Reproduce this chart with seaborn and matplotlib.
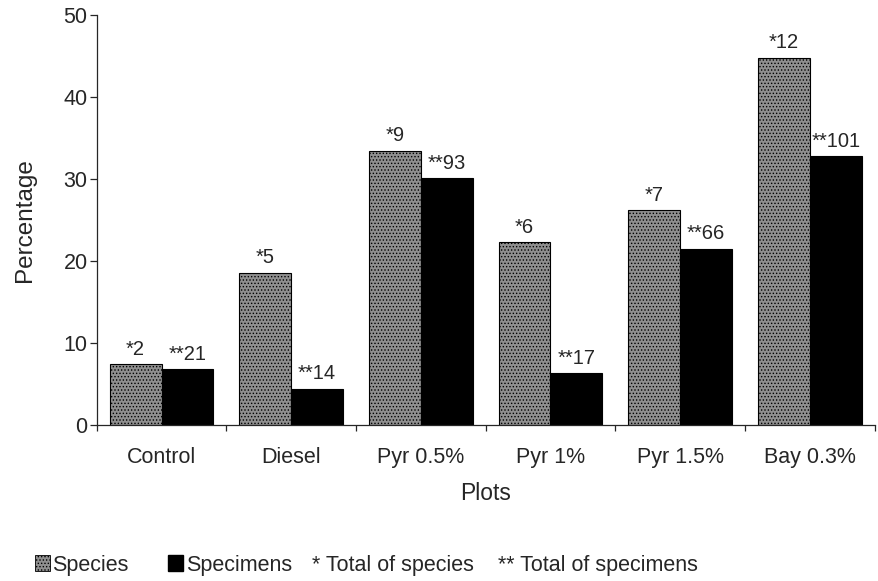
import numpy as np
import pandas as pd
import seaborn as sns
import matplotlib.pyplot as plt
from matplotlib.patches import Patch

categories = ["Control", "Diesel", "Pyr 0.5%", "Pyr 1%", "Pyr 1.5%", "Bay 0.3%"]
species_pct = [7.4, 18.6, 33.5, 22.3, 26.2, 44.8]
specimens_pct = [6.8, 4.4, 30.1, 6.3, 21.5, 32.8]
species_count = [2, 5, 9, 6, 7, 12]
specimens_count = [21, 14, 93, 17, 66, 101]
series = ["Species", "Specimens"]

df = pd.DataFrame({
    "Plots": categories * 2,
    "Percentage": species_pct + specimens_pct,
    "Type": [series[0]] * len(categories) + [series[1]] * len(categories),
})

sns.set_style("ticks")
plt.rcParams["font.family"] = ["Liberation Sans", "DejaVu Sans"]
plt.rcParams["hatch.color"] = "#d8d8d8"
plt.rcParams["hatch.linewidth"] = 0.6

fig = plt.figure(figsize=(8.79, 5.81), dpi=100)
ax = fig.add_axes([0.110, 0.2685, 0.885, 0.705])

sns.barplot(data=df, x="Plots", y="Percentage", hue="Type", order=categories,
            hue_order=series, palette=["#8f8f8f", "#000000"], width=0.8,
            edgecolor="black", linewidth=0.8, saturation=1, legend=False, ax=ax)

sp_cont, spec_cont = ax.containers[0], ax.containers[1]
for b in sp_cont:
    b.set_hatch(".....")
ax.bar_label(sp_cont, labels=[f"*{c}" for c in species_count], padding=4, fontsize=14.5)
ax.bar_label(spec_cont, labels=[f"**{c}" for c in specimens_count], padding=4, fontsize=14.5)

ax.set_ylim(0, 50)
ax.set_xlim(-0.5, 5.5)
ax.set_yticks([0, 10, 20, 30, 40, 50])
ax.tick_params(axis="y", labelsize=15.5, length=5, width=0.9, direction="out", pad=1.5)
ax.tick_params(axis="x", which="major", length=0, labelsize=15.5, pad=16)
ax.set_xticks(np.arange(-0.5, 6, 1), minor=True)
ax.tick_params(axis="x", which="minor", length=4.5, width=0.9, direction="out")
ax.set_ylabel("Percentage", fontsize=17.5, labelpad=20)
ax.set_xlabel("Plots", fontsize=16.5, labelpad=10)
sns.despine(ax=ax)
for s in ["left", "bottom"]:
    ax.spines[s].set_linewidth(0.9)

handles = [Patch(facecolor="#8f8f8f", edgecolor="black", hatch=".....", linewidth=0.6),
           Patch(facecolor="black", edgecolor="black")]
leg = fig.legend(handles, series, loc="center left", bbox_to_anchor=(35 / 879, 1 - 565 / 581),
                 ncol=2, frameon=False, fontsize=15.5, handlelength=0.7, handleheight=0.7,
                 handletextpad=0.1, columnspacing=1.85, borderpad=0, borderaxespad=0)
fig.text(312 / 879, 1 - 565 / 581, "* Total of species", fontsize=15.5, va="center")
fig.text(498 / 879, 1 - 565 / 581, "** Total of specimens", fontsize=15.5, va="center")

fig.savefig("out.png", dpi=100)
